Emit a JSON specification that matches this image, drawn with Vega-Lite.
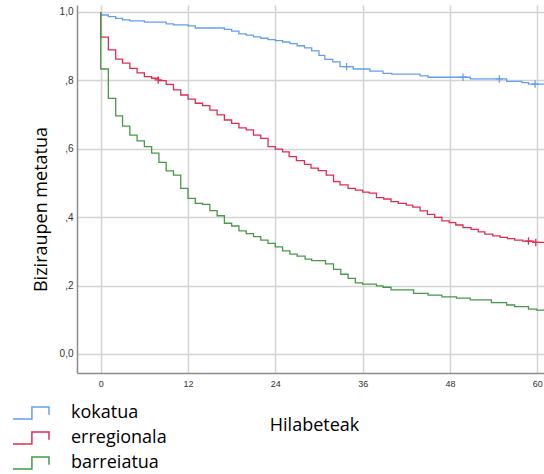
{
  "$schema": "https://vega.github.io/schema/vega-lite/v6.json",
  "width": 467,
  "height": 368,
  "autosize": {"type": "none"},
  "padding": {"left": 77, "top": 5, "right": 0, "bottom": 101},
  "background": "white",
  "config": {
    "view": {"stroke": null},
    "axis": {
      "grid": true,
      "gridColor": "#d4d4d4",
      "gridWidth": 1.5,
      "ticks": false,
      "domainColor": "#8c8c8c",
      "domainWidth": 1.5,
      "labelFont": "Liberation Sans",
      "labelColor": "#333333",
      "titleFont": "Open Sans",
      "titleFontSize": 18,
      "titleFontWeight": "normal",
      "titleColor": "#000000"
    },
    "legend": {
      "orient": "none",
      "legendX": -65,
      "legendY": 395.5,
      "padding": 0,
      "rowPadding": 0,
      "clipHeight": 25,
      "symbolType": "M-1,0.33H0.05V-0.33H1V0.1",
      "symbolSize": 1296,
      "symbolStrokeWidth": 1.5,
      "symbolFillColor": "transparent",
      "labelFont": "Open Sans",
      "labelFontSize": 18,
      "labelColor": "#000000",
      "labelOffset": 21
    }
  },
  "datasets": {
    "surv": [
      {"g": "kokatua", "t": 0, "s": 1},
      {"g": "kokatua", "t": 0, "s": 0.991},
      {"g": "kokatua", "t": 1.05, "s": 0.986},
      {"g": "kokatua", "t": 2.06, "s": 0.981},
      {"g": "kokatua", "t": 3, "s": 0.977},
      {"g": "kokatua", "t": 4, "s": 0.974},
      {"g": "kokatua", "t": 6, "s": 0.970},
      {"g": "kokatua", "t": 9, "s": 0.965},
      {"g": "kokatua", "t": 10, "s": 0.962},
      {"g": "kokatua", "t": 12, "s": 0.959},
      {"g": "kokatua", "t": 13, "s": 0.953},
      {"g": "kokatua", "t": 17, "s": 0.949},
      {"g": "kokatua", "t": 18, "s": 0.944},
      {"g": "kokatua", "t": 19, "s": 0.936},
      {"g": "kokatua", "t": 20, "s": 0.932},
      {"g": "kokatua", "t": 21, "s": 0.927},
      {"g": "kokatua", "t": 22, "s": 0.923},
      {"g": "kokatua", "t": 23, "s": 0.919},
      {"g": "kokatua", "t": 24, "s": 0.916},
      {"g": "kokatua", "t": 25, "s": 0.912},
      {"g": "kokatua", "t": 26, "s": 0.907},
      {"g": "kokatua", "t": 27, "s": 0.901},
      {"g": "kokatua", "t": 28, "s": 0.895},
      {"g": "kokatua", "t": 29, "s": 0.886},
      {"g": "kokatua", "t": 30, "s": 0.873},
      {"g": "kokatua", "t": 30.8, "s": 0.861},
      {"g": "kokatua", "t": 31.9, "s": 0.854},
      {"g": "kokatua", "t": 32.9, "s": 0.840},
      {"g": "kokatua", "t": 34.7, "s": 0.833},
      {"g": "kokatua", "t": 37, "s": 0.827},
      {"g": "kokatua", "t": 38.8, "s": 0.820},
      {"g": "kokatua", "t": 40, "s": 0.818},
      {"g": "kokatua", "t": 43.9, "s": 0.813},
      {"g": "kokatua", "t": 45, "s": 0.809},
      {"g": "kokatua", "t": 50.8, "s": 0.804},
      {"g": "kokatua", "t": 55.8, "s": 0.797},
      {"g": "kokatua", "t": 57.9, "s": 0.793},
      {"g": "kokatua", "t": 58.8, "s": 0.789},
      {"g": "kokatua", "t": 61, "s": 0.789},
      {"g": "erregionala", "t": 0, "s": 1},
      {"g": "erregionala", "t": 0, "s": 0.926},
      {"g": "erregionala", "t": 1.05, "s": 0.889},
      {"g": "erregionala", "t": 2.06, "s": 0.862},
      {"g": "erregionala", "t": 3, "s": 0.850},
      {"g": "erregionala", "t": 4, "s": 0.835},
      {"g": "erregionala", "t": 5, "s": 0.822},
      {"g": "erregionala", "t": 6, "s": 0.811},
      {"g": "erregionala", "t": 7, "s": 0.806},
      {"g": "erregionala", "t": 7.9, "s": 0.799},
      {"g": "erregionala", "t": 9, "s": 0.788},
      {"g": "erregionala", "t": 10, "s": 0.772},
      {"g": "erregionala", "t": 11, "s": 0.757},
      {"g": "erregionala", "t": 12, "s": 0.745},
      {"g": "erregionala", "t": 13, "s": 0.733},
      {"g": "erregionala", "t": 14, "s": 0.726},
      {"g": "erregionala", "t": 15, "s": 0.713},
      {"g": "erregionala", "t": 16, "s": 0.699},
      {"g": "erregionala", "t": 17, "s": 0.684},
      {"g": "erregionala", "t": 18, "s": 0.674},
      {"g": "erregionala", "t": 19, "s": 0.661},
      {"g": "erregionala", "t": 20, "s": 0.655},
      {"g": "erregionala", "t": 21, "s": 0.640},
      {"g": "erregionala", "t": 22, "s": 0.630},
      {"g": "erregionala", "t": 23, "s": 0.606},
      {"g": "erregionala", "t": 24, "s": 0.599},
      {"g": "erregionala", "t": 25, "s": 0.591},
      {"g": "erregionala", "t": 25.9, "s": 0.577},
      {"g": "erregionala", "t": 26.9, "s": 0.565},
      {"g": "erregionala", "t": 28, "s": 0.554},
      {"g": "erregionala", "t": 28.9, "s": 0.543},
      {"g": "erregionala", "t": 29.9, "s": 0.536},
      {"g": "erregionala", "t": 31, "s": 0.523},
      {"g": "erregionala", "t": 32, "s": 0.504},
      {"g": "erregionala", "t": 32.9, "s": 0.494},
      {"g": "erregionala", "t": 34, "s": 0.484},
      {"g": "erregionala", "t": 35, "s": 0.479},
      {"g": "erregionala", "t": 36, "s": 0.473},
      {"g": "erregionala", "t": 36.9, "s": 0.470},
      {"g": "erregionala", "t": 37.9, "s": 0.457},
      {"g": "erregionala", "t": 38.9, "s": 0.453},
      {"g": "erregionala", "t": 39.9, "s": 0.445},
      {"g": "erregionala", "t": 40.9, "s": 0.440},
      {"g": "erregionala", "t": 42, "s": 0.435},
      {"g": "erregionala", "t": 42.9, "s": 0.429},
      {"g": "erregionala", "t": 43.9, "s": 0.418},
      {"g": "erregionala", "t": 44.9, "s": 0.408},
      {"g": "erregionala", "t": 45.9, "s": 0.399},
      {"g": "erregionala", "t": 46.9, "s": 0.389},
      {"g": "erregionala", "t": 47.9, "s": 0.384},
      {"g": "erregionala", "t": 48.8, "s": 0.377},
      {"g": "erregionala", "t": 49.8, "s": 0.369},
      {"g": "erregionala", "t": 50.9, "s": 0.364},
      {"g": "erregionala", "t": 51.9, "s": 0.357},
      {"g": "erregionala", "t": 52.8, "s": 0.350},
      {"g": "erregionala", "t": 53.9, "s": 0.345},
      {"g": "erregionala", "t": 54.9, "s": 0.341},
      {"g": "erregionala", "t": 55.9, "s": 0.337},
      {"g": "erregionala", "t": 56.9, "s": 0.333},
      {"g": "erregionala", "t": 58, "s": 0.330},
      {"g": "erregionala", "t": 59.5, "s": 0.326},
      {"g": "erregionala", "t": 61, "s": 0.326},
      {"g": "barreiatua", "t": 0, "s": 1},
      {"g": "barreiatua", "t": 0, "s": 0.833},
      {"g": "barreiatua", "t": 1.05, "s": 0.747},
      {"g": "barreiatua", "t": 2.06, "s": 0.696},
      {"g": "barreiatua", "t": 3, "s": 0.666},
      {"g": "barreiatua", "t": 4, "s": 0.640},
      {"g": "barreiatua", "t": 5, "s": 0.623},
      {"g": "barreiatua", "t": 6, "s": 0.606},
      {"g": "barreiatua", "t": 7, "s": 0.587},
      {"g": "barreiatua", "t": 8, "s": 0.560},
      {"g": "barreiatua", "t": 9, "s": 0.535},
      {"g": "barreiatua", "t": 10, "s": 0.523},
      {"g": "barreiatua", "t": 11, "s": 0.484},
      {"g": "barreiatua", "t": 12, "s": 0.455},
      {"g": "barreiatua", "t": 13, "s": 0.440},
      {"g": "barreiatua", "t": 14, "s": 0.437},
      {"g": "barreiatua", "t": 15, "s": 0.419},
      {"g": "barreiatua", "t": 16, "s": 0.404},
      {"g": "barreiatua", "t": 17, "s": 0.382},
      {"g": "barreiatua", "t": 18, "s": 0.374},
      {"g": "barreiatua", "t": 19, "s": 0.360},
      {"g": "barreiatua", "t": 20, "s": 0.352},
      {"g": "barreiatua", "t": 21, "s": 0.343},
      {"g": "barreiatua", "t": 22, "s": 0.333},
      {"g": "barreiatua", "t": 23, "s": 0.323},
      {"g": "barreiatua", "t": 24, "s": 0.313},
      {"g": "barreiatua", "t": 25, "s": 0.301},
      {"g": "barreiatua", "t": 26, "s": 0.292},
      {"g": "barreiatua", "t": 27, "s": 0.286},
      {"g": "barreiatua", "t": 28.1, "s": 0.277},
      {"g": "barreiatua", "t": 29, "s": 0.273},
      {"g": "barreiatua", "t": 30.9, "s": 0.263},
      {"g": "barreiatua", "t": 32, "s": 0.247},
      {"g": "barreiatua", "t": 33, "s": 0.233},
      {"g": "barreiatua", "t": 34, "s": 0.221},
      {"g": "barreiatua", "t": 35, "s": 0.208},
      {"g": "barreiatua", "t": 36, "s": 0.204},
      {"g": "barreiatua", "t": 37.9, "s": 0.199},
      {"g": "barreiatua", "t": 38.8, "s": 0.195},
      {"g": "barreiatua", "t": 39.9, "s": 0.187},
      {"g": "barreiatua", "t": 43, "s": 0.177},
      {"g": "barreiatua", "t": 45, "s": 0.172},
      {"g": "barreiatua", "t": 46.9, "s": 0.167},
      {"g": "barreiatua", "t": 48.9, "s": 0.163},
      {"g": "barreiatua", "t": 50.8, "s": 0.158},
      {"g": "barreiatua", "t": 53.7, "s": 0.150},
      {"g": "barreiatua", "t": 55.8, "s": 0.143},
      {"g": "barreiatua", "t": 56.9, "s": 0.138},
      {"g": "barreiatua", "t": 58.8, "s": 0.131},
      {"g": "barreiatua", "t": 59.9, "s": 0.128},
      {"g": "barreiatua", "t": 61, "s": 0.128}
    ],
    "cens": [
      {"g": "kokatua", "t": 33.8, "s": 0.840},
      {"g": "kokatua", "t": 49.8, "s": 0.809},
      {"g": "kokatua", "t": 54.8, "s": 0.804},
      {"g": "kokatua", "t": 59.7, "s": 0.789},
      {"g": "erregionala", "t": 7.9, "s": 0.801},
      {"g": "erregionala", "t": 58.8, "s": 0.330},
      {"g": "erregionala", "t": 59.8, "s": 0.326}
    ]
  },
  "encoding": {
    "x": {
      "field": "t",
      "type": "quantitative",
      "scale": {"domain": [-3.26, 60.93], "nice": false, "zero": false},
      "axis": {
        "values": [0, 12, 24, 36, 48, 60],
        "labelFontSize": 9,
        "labelPadding": 6,
        "title": "Hilabeteak",
        "titleX": 237,
        "titleY": 57,
        "titleBaseline": "alphabetic"
      }
    },
    "y": {
      "field": "s",
      "type": "quantitative",
      "scale": {"domain": [-0.0558, 1.0202], "nice": false, "zero": false},
      "axis": {
        "values": [0, 0.2, 0.4, 0.6, 0.8, 1],
        "labelExpr": "datum.value == 0 ? '0,0' : datum.value == 1 ? '1,0' : ',' + round(datum.value * 10)",
        "labelFontSize": 10,
        "labelPadding": 4,
        "title": "Biziraupen metatua",
        "titleX": -31,
        "titleY": 204,
        "titleBaseline": "alphabetic"
      }
    },
    "color": {
      "field": "g",
      "type": "nominal",
      "sort": ["kokatua", "erregionala", "barreiatua"],
      "scale": {
        "domain": ["kokatua", "erregionala", "barreiatua"],
        "range": ["#64a0ea", "#e02c52", "#46994a"]
      },
      "legend": {"title": null}
    }
  },
  "layer": [
    {
      "data": {"name": "surv"},
      "mark": {"type": "line", "interpolate": "step-after", "strokeWidth": 1.3, "clip": true}
    },
    {
      "data": {"name": "cens"},
      "mark": {"type": "point", "shape": "M-1,0H1M0,-1V1", "size": 56, "filled": false, "strokeWidth": 1.3, "opacity": 1, "clip": true}
    }
  ]
}
